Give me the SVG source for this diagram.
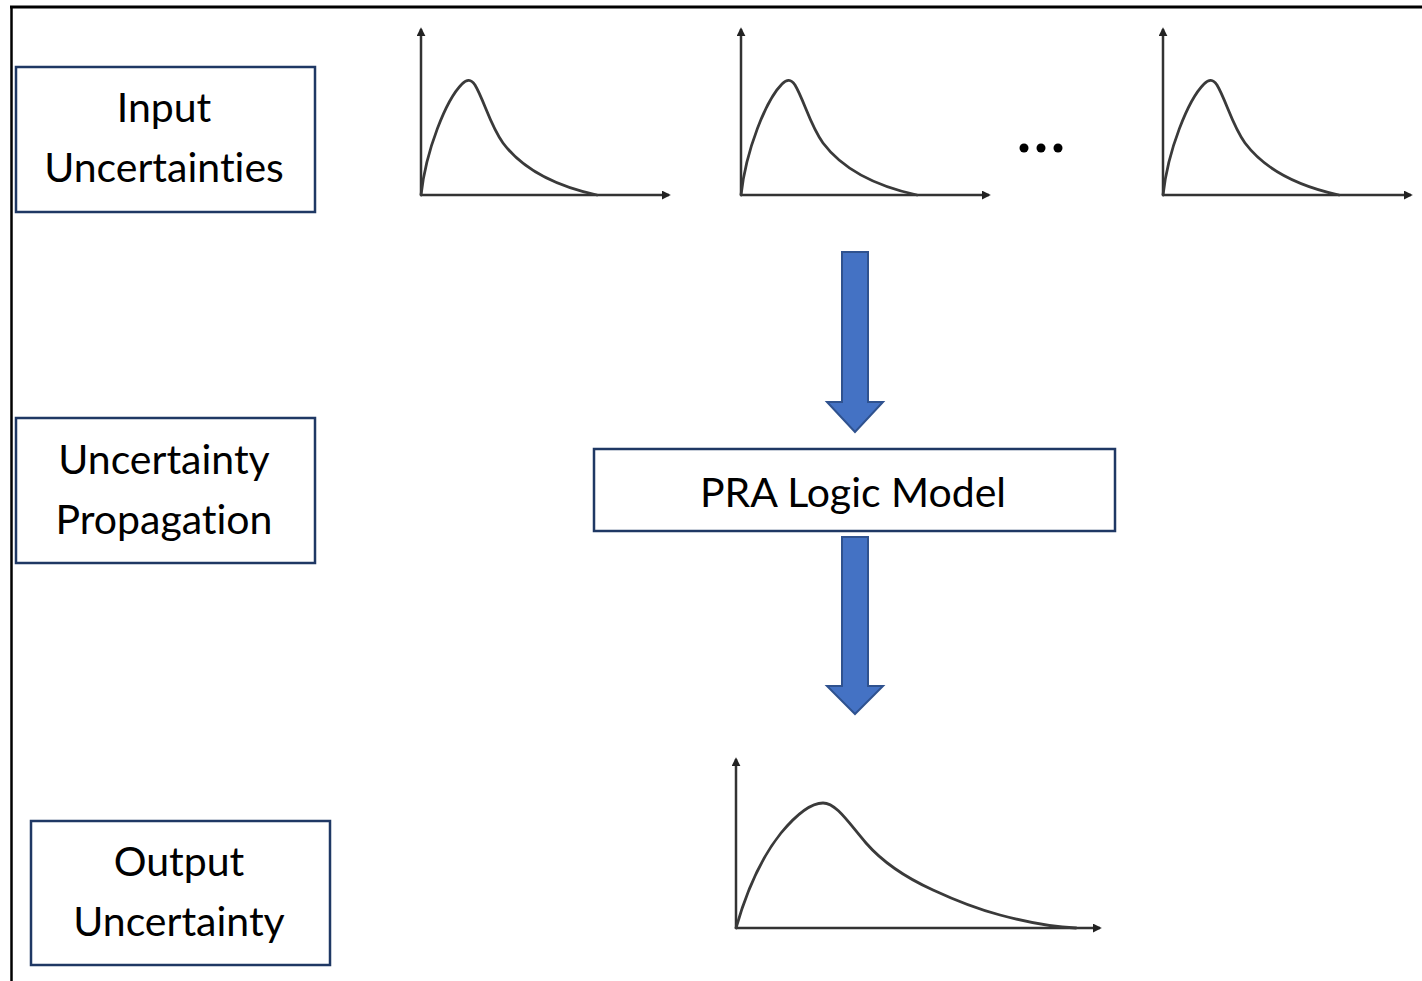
<svg xmlns="http://www.w3.org/2000/svg" xmlns:xlink="http://www.w3.org/1999/xlink" width="1422" height="981" viewBox="0 0 1422 981">
<style>
.box{fill:#fff;stroke:#1f3864;stroke-width:2.5}
.lbl{font-family:Lato,"Open Sans","Liberation Sans",sans-serif;font-size:41px;fill:#000;text-anchor:middle;font-variant-ligatures:none;font-feature-settings:"liga" 0}
.axis{stroke:#333;stroke-width:2.5;fill:none}
.curve{stroke:#3a3a3a;stroke-width:2.8;fill:none;stroke-linecap:round}
.bigarrow{fill:#4472c4;stroke:#2f528f;stroke-width:2}
.frame{stroke:#000;fill:none}
</style>
<defs>
<marker id="ah" viewBox="0 0 10 10" refX="8" refY="5" markerWidth="3.6" markerHeight="3.6" orient="auto" markerUnits="strokeWidth">
<path d="M0,0 L10,5 L0,10 z" fill="#222"/>
</marker>
<g id="smallplot">
<path class="axis" d="M0,0 V-166" marker-end="url(#ah)"/>
<path class="axis" d="M0,0 H248" marker-end="url(#ah)"/>
<path class="curve" d="M0,0 C5,-45 25,-95 41,-111 C46,-116 50,-116 54,-110 C63,-95 69,-70 82,-52 C100,-28 130,-10 176,0"/>
</g>
</defs>
<rect width="1422" height="981" fill="#fff"/>
<g id="frame">
<line class="frame" x1="10" y1="7" x2="1422" y2="7" stroke-width="3"/>
<line class="frame" x1="11.5" y1="6" x2="11.5" y2="981" stroke-width="2.5"/>
</g>
<g id="input-uncertainties">
<rect class="box" x="16" y="67" width="299" height="145"/>
<text class="lbl" x="164" y="122">Input</text>
<text class="lbl" x="164" y="182">Uncertainties</text>
</g>
<g id="uncertainty-propagation">
<rect class="box" x="16" y="418" width="299" height="145"/>
<text class="lbl" x="164" y="474">Uncertainty</text>
<text class="lbl" x="164" y="534">Propagation</text>
</g>
<g id="output-uncertainty">
<rect class="box" x="31" y="821" width="299" height="144"/>
<text class="lbl" x="179" y="876">Output</text>
<text class="lbl" x="179" y="936">Uncertainty</text>
</g>
<g id="input-distributions">
<use xlink:href="#smallplot" transform="translate(421,195)"/>
<use xlink:href="#smallplot" transform="translate(741,195)"/>
<use xlink:href="#smallplot" transform="translate(1163,195)"/>
<circle cx="1024" cy="148" r="4.5" fill="#000"/>
<circle cx="1041" cy="148" r="4.5" fill="#000"/>
<circle cx="1058" cy="148" r="4.5" fill="#000"/>
</g>
<g id="pra-logic-model">
<rect class="box" x="594" y="449" width="521" height="82"/>
<text class="lbl" x="853" y="507">PRA Logic Model</text>
</g>
<g id="output-distribution">
<path class="axis" d="M736,928 V759" marker-end="url(#ah)"/>
<path class="axis" d="M736,928 H1100" marker-end="url(#ah)"/>
<path class="curve" d="M736,928 C746,893 761,858 781,833 C796,815 811,803 823,803 C836,803 848,822 866,843 C886,866 911,880 933,890 C961,903 981,910 1000,915 C1026,922 1051,927 1076,928"/>
</g>
<g id="connectors">
<path class="bigarrow" d="M842,252 H868 V402 H883 L855,432 L827,402 H842 Z"/>
<path class="bigarrow" d="M842,537 H868 V686 H883 L855,714 L827,686 H842 Z"/>
</g>
</svg>
